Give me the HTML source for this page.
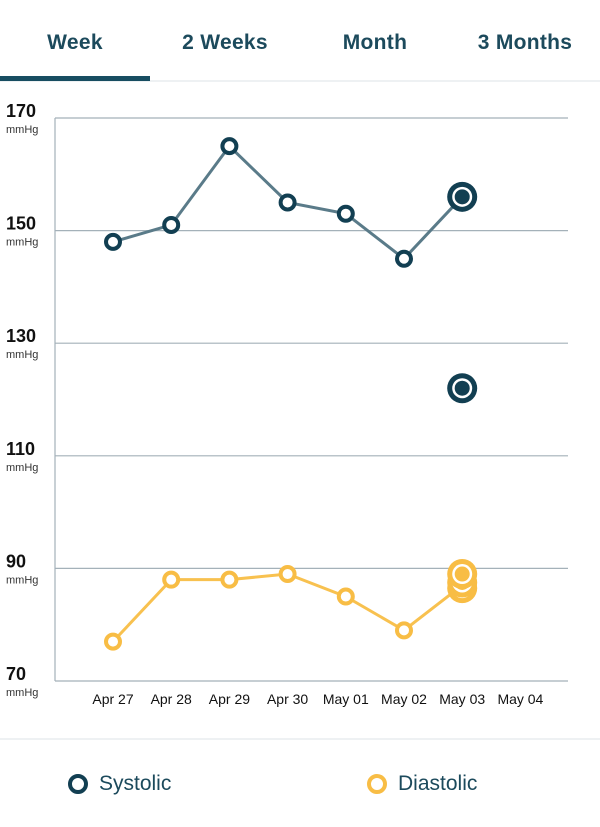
<!DOCTYPE html>
<html><head><meta charset="utf-8"><style>
body{margin:0;width:600px;height:825px;background:#fff;font-family:"Liberation Sans",sans-serif;overflow:hidden;position:relative}
.tabs{position:absolute;top:0;left:0;width:600px;height:80px;border-bottom:2px solid #eef1f3}
.tab{position:absolute;top:31px;font-size:21px;color:#1c4a5c;transform:translateX(-50%);font-weight:bold;letter-spacing:0.3px;white-space:nowrap}
.ind{position:absolute;left:0;top:76px;width:150px;height:5px;background:#174d61}
.legend{position:absolute;top:738px;left:0;width:600px;height:87px;border-top:2px solid #eef1f3}
.li{position:absolute;top:32px;font-size:21px;color:#1c4a5c}
.dot{position:absolute;top:34px;width:12px;height:12px;border-radius:50%;border:4px solid}
</style></head><body>
<div class="tabs">
<div class="tab" style="left:75px">Week</div>
<div class="tab" style="left:225px">2 Weeks</div>
<div class="tab" style="left:375px">Month</div>
<div class="tab" style="left:525px">3 Months</div>
<div class="ind"></div>
</div>
<svg id="chart" width="600" height="825" style="position:absolute;left:0;top:0"></svg>
<div class="legend">
<div class="dot" style="left:68px;border-color:#123f52"></div>
<div class="li" style="left:99px">Systolic</div>
<div class="dot" style="left:367px;border-color:#f8bd45"></div>
<div class="li" style="left:398px">Diastolic</div>
</div>
<script>
const categories=["Apr 27","Apr 28","Apr 29","Apr 30","May 01","May 02","May 03","May 04"];
const yTicks=[170,150,130,110,90,70];
const systolic=[148,151,165,155,153,145,156];
const diastolic=[77,88,88,89,85,79,87];
const systolicExtra=[{i:6,v:156},{i:6,v:122}];
const diastolicExtra=[{i:6,v:86.5},{i:6,v:87.5},{i:6,v:89}];
const NS="http://www.w3.org/2000/svg";
const svg=document.getElementById('chart');
const x=i=>113+i*58.2;
const y=v=>681-(v-70)*(563/100);
function mk(t,a){const e=document.createElementNS(NS,t);for(const k in a)e.setAttribute(k,a[k]);svg.appendChild(e);return e;}
yTicks.forEach(v=>{
 if(v>70){const l=mk('line',{x1:55,x2:568,y1:y(v),y2:y(v),stroke:'#a4b1b9','stroke-width':1.2});
 
 }
 const t=mk('text',{x:6,y:y(v)-1,'font-size':18,'font-weight':'bold',fill:'#111'});t.textContent=v;
 
 
 const u=mk('text',{x:6,y:y(v)+15,'font-size':11,fill:'#333'});u.textContent='mmHg';
 
 
});
const ax=mk('line',{x1:55,x2:55,y1:y(170),y2:y(70),stroke:'#a4b1b9','stroke-width':1.2});


const bx=mk('line',{x1:55,x2:568,y1:y(70),y2:y(70),stroke:'#a4b1b9','stroke-width':1.2});


categories.forEach((c,i)=>{const t=mk('text',{x:x(i),y:704,'font-size':14,'text-anchor':'middle',fill:'#111'});t.textContent=c;
 
 });
function series(data,extra,lc,pc,name){
 const p=mk('polyline',{points:data.map((v,i)=>x(i)+','+y(v)).join(' '),fill:'none',stroke:lc,'stroke-width':3});
 
 
 data.forEach((v,i)=>{if(i===data.length-1)return;const c=mk('circle',{cx:x(i),cy:y(v),r:7,fill:'#fff',stroke:pc,'stroke-width':4});
  
  });
 extra.forEach(e=>{const g=document.createElementNS(NS,'g');svg.appendChild(g);
  
  
  [[15,pc],[10,'#fff'],[7.5,pc]].forEach(([r,f])=>{const c=document.createElementNS(NS,'circle');c.setAttribute('cx',x(e.i));c.setAttribute('cy',y(e.v));c.setAttribute('r',r);c.setAttribute('fill',f);g.appendChild(c);});});
}
series(systolic,systolicExtra,'#5a7b89','#123f52','systolic');
series(diastolic,diastolicExtra,'#f8c14f','#f8bd45','diastolic');
</script>
</body></html>
